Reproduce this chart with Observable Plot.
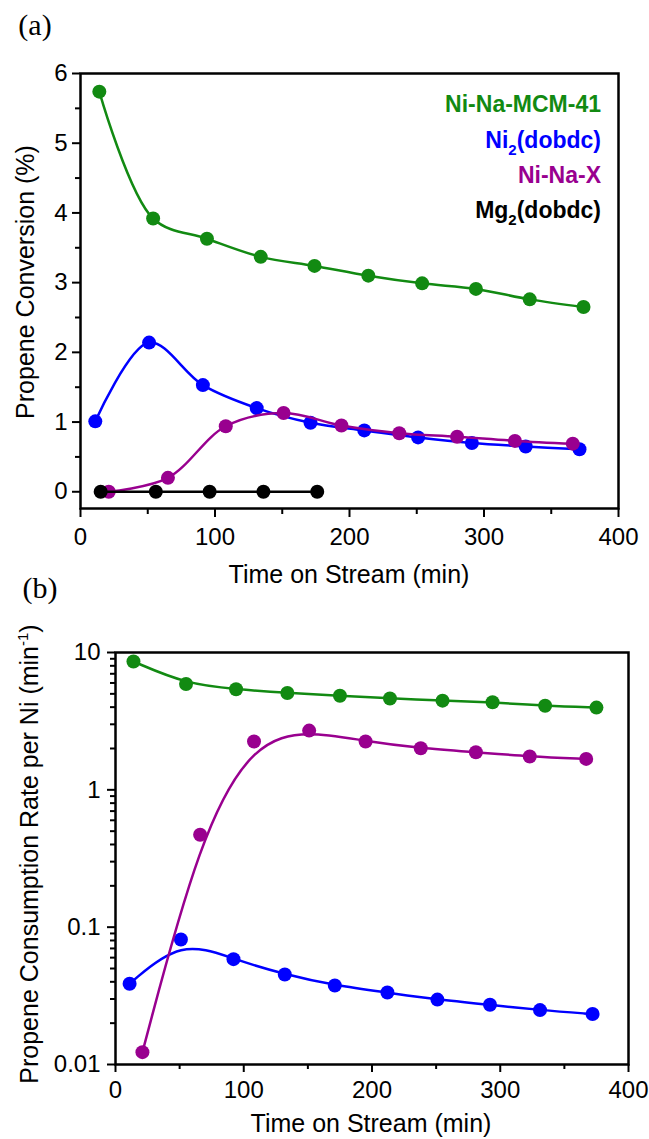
<!DOCTYPE html>
<html><head><meta charset="utf-8">
<script src="https://cdn.jsdelivr.net/npm/d3@7"></script>
<script src="https://cdn.jsdelivr.net/npm/@observablehq/plot@0.6"></script>
<style>
body{margin:0;background:#fff;}
#wrap{position:relative;width:649px;height:1139px;overflow:hidden;background:#fff;}
#wrap svg{position:absolute;left:0;overflow:visible;}
</style>
</head><body><div id="wrap"></div>
<script>
// ---------- data: panel (a) Propene conversion (%) ----------
const seriesNames = ["Ni-Na-MCM-41", "Ni2(dobdc)", "Ni-Na-X", "Mg2(dobdc)"];
const seriesColors = ["#128a12", "#0000ff", "#99008f", "#000000"];

const timeGreenA  = [14, 54, 94, 134, 174, 214, 254, 294, 334, 374];
const convGreen   = [5.74, 3.92, 3.63, 3.37, 3.24, 3.10, 2.99, 2.91, 2.76, 2.65];
const timeBlueA   = [11, 51, 91, 131, 171, 211, 251, 291, 331, 371];
const convBlue    = [1.01, 2.14, 1.53, 1.20, 0.99, 0.88, 0.78, 0.70, 0.65, 0.61];
const timePurpleA = [21, 65, 108, 151, 194, 237, 280, 323, 366];
const convPurple  = [0, 0.20, 0.94, 1.13, 0.95, 0.84, 0.79, 0.73, 0.69];
const timeBlackA  = [15, 56, 96, 136, 176];
const convBlack   = [0, 0, 0, 0, 0];

// ---------- data: panel (b) Propene consumption rate per Ni (min^-1) ----------
const timeGreenB  = [14, 55, 94, 134, 175, 214, 255, 294, 335, 375];
const rateGreen   = [8.6, 5.9, 5.4, 5.07, 4.84, 4.63, 4.46, 4.34, 4.10, 3.97];
const timeBlueB   = [11, 51, 92, 132, 171, 212, 251, 292, 331, 372];
const rateBlue    = [0.0387, 0.0813, 0.0585, 0.0452, 0.0376, 0.0334, 0.0297, 0.0272, 0.0249, 0.0233];
const timePurpleB = [21, 66, 108, 151, 195, 238, 281, 323, 367];
const ratePurple  = [0.0123, 0.471, 2.25, 2.70, 2.25, 2.01, 1.88, 1.75, 1.68];

// ---------- ticks ----------
const xMajor = [0, 100, 200, 300, 400];
const xMinor = [50, 150, 250, 350];
const yMajorA = [0, 1, 2, 3, 4, 5, 6];
const yMinorA = [0.5, 1.5, 2.5, 3.5, 4.5, 5.5];
const yMajorB = [0.01, 0.1, 1, 10];
const yMinorB = [0.02,0.03,0.04,0.05,0.06,0.07,0.08,0.09,0.2,0.3,0.4,0.5,0.6,0.7,0.8,0.9,2,3,4,5,6,7,8,9];

const FONT = "'Liberation Sans', Arial, sans-serif";
const SERIF = "'Liberation Serif', 'Times New Roman', serif";
const zip = (xs, ys) => xs.map((x, i) => ({x, y: ys[i]}));

const wrap = document.getElementById("wrap");

// ---------- panel (a) ----------
const seriesA = [
  {d: zip(timeGreenA, convGreen), c: seriesColors[0]},
  {d: zip(timeBlueA, convBlue), c: seriesColors[1]},
  {d: zip(timePurpleA, convPurple), c: seriesColors[2]},
  {d: zip(timeBlackA, convBlack), c: seriesColors[3]}
];
const marksA = [
  Plot.frame({stroke: "black", strokeWidth: 2.5}),
  Plot.axisX({ticks: xMajor, tickSize: 9, tickPadding: 10, fontSize: 24, strokeWidth: 2, label: null, tickFormat: d => String(d)}),
  Plot.axisX({ticks: xMinor, tickSize: 6, strokeWidth: 2, text: null, label: null}),
  Plot.axisY({ticks: yMajorA, tickSize: 8, tickPadding: 5, fontSize: 24, strokeWidth: 2, label: null, tickFormat: d => String(d)}),
  Plot.axisY({ticks: yMinorA, tickSize: 5, strokeWidth: 2, text: null, label: null})
];
for (const s of seriesA) {
  marksA.push(Plot.line(s.d, {x: "x", y: "y", stroke: s.c, strokeWidth: 2.5, curve: "catmull-rom"}));
  marksA.push(Plot.dot(s.d, {x: "x", y: "y", fill: s.c, r: 7, stroke: "none"}));
}
const plotA = Plot.plot({
  width: 649, height: 600,
  marginLeft: 80, marginRight: 31, marginTop: 73, marginBottom: 92,
  x: {domain: [0, 400]},
  y: {domain: [-0.24, 6]},
  style: {fontFamily: FONT, fontSize: "24px", background: "transparent", overflow: "visible", color: "black"},
  marks: marksA
});
plotA.style.top = "0px";
wrap.appendChild(plotA);
const sa = d3.select(plotA);
sa.append("text").attr("x", 35).attr("y", 35).attr("font-family", SERIF).attr("font-size", 30).attr("fill", "black").text("(a)");
sa.append("text").attr("transform", "translate(34,282) rotate(-90)").attr("text-anchor", "middle")
  .attr("font-family", FONT).attr("font-size", 25).attr("fill", "black").text("Propene Conversion (%)");
sa.append("text").attr("x", 349).attr("y", 583).attr("text-anchor", "middle")
  .attr("font-family", FONT).attr("font-size", 25).attr("fill", "black").text("Time on Stream (min)");
// legend
const legY = [111.7, 148, 183, 218];
seriesNames.forEach((name, i) => {
  const t = sa.append("text").attr("x", 601).attr("y", legY[i]).attr("text-anchor", "end")
    .attr("font-family", FONT).attr("font-size", 23).attr("font-weight", "bold").attr("fill", seriesColors[i]);
  const m = name.match(/^(.*?)(\d)(\(.*\))$/);
  if (m) {
    t.append("tspan").text(m[1]);
    t.append("tspan").attr("font-size", 15).attr("dy", 7).text(m[2]);
    t.append("tspan").attr("dy", -7).text(m[3]);
  } else t.text(name);
});

// ---------- panel (b) ----------
const seriesB = [
  {d: zip(timeGreenB, rateGreen), c: seriesColors[0]},
  {d: zip(timeBlueB, rateBlue), c: seriesColors[1]},
  {d: zip(timePurpleB, ratePurple), c: seriesColors[2]}
];
const marksB = [
  Plot.frame({stroke: "black", strokeWidth: 2.5}),
  Plot.axisX({ticks: xMajor, tickSize: 8, tickPadding: 8, fontSize: 24, strokeWidth: 2, label: null, tickFormat: d => String(d)}),
  Plot.axisX({ticks: xMinor, tickSize: 5, strokeWidth: 2, text: null, label: null}),
  Plot.axisY({ticks: yMajorB, tickSize: 8, tickPadding: 7, fontSize: 24, strokeWidth: 2, label: null, tickFormat: d => String(d)}),
  Plot.axisY({ticks: yMinorB, tickSize: 5, strokeWidth: 2, text: null, label: null})
];
for (const s of seriesB) {
  marksB.push(Plot.line(s.d, {x: "x", y: "y", stroke: s.c, strokeWidth: 2.5, curve: "basis"}));
  marksB.push(Plot.dot(s.d, {x: "x", y: "y", fill: s.c, r: 7, stroke: "none"}));
}
const plotB = Plot.plot({
  width: 649, height: 539,
  marginLeft: 115, marginRight: 21, marginTop: 52, marginBottom: 75,
  x: {domain: [0, 400]},
  y: {type: "log", domain: [0.01, 10]},
  style: {fontFamily: FONT, fontSize: "24px", background: "transparent", overflow: "visible", color: "black"},
  marks: marksB
});
plotB.style.top = "600px";
wrap.appendChild(plotB);
const sb = d3.select(plotB);
sb.append("text").attr("x", 40).attr("y", -2).attr("font-family", SERIF).attr("font-size", 30).attr("fill", "black").text("(b)");
const yt = sb.append("text").attr("transform", "translate(38,254) rotate(-90)").attr("text-anchor", "middle")
  .attr("font-family", FONT).attr("font-size", 25).attr("fill", "black");
yt.append("tspan").text("Propene Consumption Rate per Ni (min");
yt.append("tspan").attr("font-size", 15).attr("dy", -10).text("-1");
yt.append("tspan").attr("dy", 10).text(")");
sb.append("text").attr("x", 371).attr("y", 532).attr("text-anchor", "middle")
  .attr("font-family", FONT).attr("font-size", 25).attr("fill", "black").text("Time on Stream (min)");
</script></body></html>
